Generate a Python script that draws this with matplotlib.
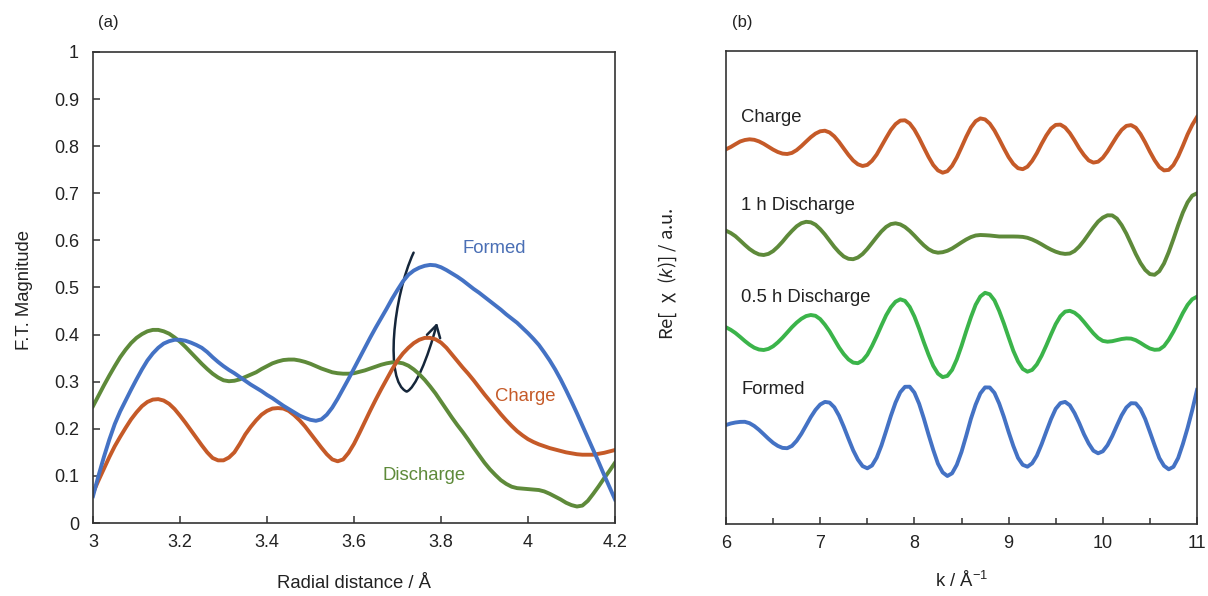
import matplotlib
matplotlib.use("Agg")
import matplotlib.pyplot as plt
from matplotlib.path import Path
from matplotlib.patches import FancyArrowPatch
from matplotlib.ticker import FuncFormatter, MultipleLocator
import numpy as np

plt.rcParams['font.family'] = ['Liberation Sans', 'DejaVu Sans']
plt.rcParams['mathtext.fontset'] = 'custom'
plt.rcParams['mathtext.rm'] = 'Liberation Sans'
plt.rcParams['mathtext.it'] = 'Liberation Sans:italic'

# ---- (a) Fourier transform magnitude vs radial distance ----
r = [3.0000, 3.0125, 3.0250, 3.0375, 3.0500, 3.0625, 3.0750, 3.0875,
     3.1000, 3.1125, 3.1250, 3.1375, 3.1500, 3.1625, 3.1750, 3.1875,
     3.2000, 3.2125, 3.2250, 3.2375, 3.2500, 3.2625, 3.2750, 3.2875,
     3.3000, 3.3125, 3.3250, 3.3375, 3.3500, 3.3625, 3.3750, 3.3875,
     3.4000, 3.4125, 3.4250, 3.4375, 3.4500, 3.4625, 3.4750, 3.4875,
     3.5000, 3.5125, 3.5250, 3.5375, 3.5500, 3.5625, 3.5750, 3.5875,
     3.6000, 3.6125, 3.6250, 3.6375, 3.6500, 3.6625, 3.6750, 3.6875,
     3.7000, 3.7125, 3.7250, 3.7375, 3.7500, 3.7625, 3.7750, 3.7875,
     3.8000, 3.8125, 3.8250, 3.8375, 3.8500, 3.8625, 3.8750, 3.8875,
     3.9000, 3.9125, 3.9250, 3.9375, 3.9500, 3.9625, 3.9750, 3.9875,
     4.0000, 4.0125, 4.0250, 4.0375, 4.0500, 4.0625, 4.0750, 4.0875,
     4.1000, 4.1125, 4.1250, 4.1375, 4.1500, 4.1625, 4.1750, 4.1875,
     4.2000]

ft_formed = [0.057, 0.100, 0.140, 0.177, 0.210, 0.237, 0.260, 0.283,
             0.305, 0.326, 0.345, 0.360, 0.372, 0.381, 0.386, 0.389,
             0.389, 0.387, 0.383, 0.378, 0.372, 0.363, 0.352, 0.342,
             0.333, 0.325, 0.318, 0.310, 0.302, 0.294, 0.287, 0.280,
             0.272, 0.265, 0.257, 0.249, 0.242, 0.235, 0.228, 0.223,
             0.219, 0.217, 0.220, 0.230, 0.245, 0.264, 0.285, 0.306,
             0.328, 0.350, 0.372, 0.394, 0.415, 0.435, 0.455, 0.476,
             0.495, 0.513, 0.527, 0.536, 0.542, 0.546, 0.548, 0.547,
             0.543, 0.537, 0.530, 0.523, 0.515, 0.506, 0.497, 0.489,
             0.480, 0.471, 0.462, 0.453, 0.443, 0.434, 0.425, 0.414,
             0.403, 0.391, 0.378, 0.362, 0.345, 0.326, 0.305, 0.282,
             0.258, 0.233, 0.207, 0.181, 0.155, 0.129, 0.102, 0.076,
             0.050]

ft_charge = [0.064, 0.090, 0.115, 0.140, 0.163, 0.183, 0.202, 0.220,
             0.235, 0.248, 0.257, 0.262, 0.263, 0.260, 0.253, 0.242,
             0.228, 0.213, 0.197, 0.181, 0.165, 0.150, 0.138, 0.133,
             0.133, 0.139, 0.150, 0.168, 0.188, 0.204, 0.218, 0.230,
             0.238, 0.243, 0.244, 0.243, 0.238, 0.229, 0.218, 0.205,
             0.190, 0.175, 0.160, 0.146, 0.135, 0.131, 0.135, 0.149,
             0.168, 0.191, 0.215, 0.239, 0.262, 0.284, 0.305, 0.326,
             0.345, 0.360, 0.372, 0.382, 0.389, 0.393, 0.393, 0.390,
             0.383, 0.372, 0.358, 0.344, 0.330, 0.317, 0.303, 0.288,
             0.273, 0.259, 0.245, 0.231, 0.218, 0.206, 0.195, 0.186,
             0.178, 0.172, 0.167, 0.163, 0.159, 0.156, 0.153, 0.150,
             0.148, 0.146, 0.145, 0.145, 0.145, 0.147, 0.149, 0.152,
             0.155]

ft_discharge = [0.248, 0.270, 0.292, 0.313, 0.333, 0.352, 0.368, 0.382,
                0.393, 0.401, 0.407, 0.410, 0.410, 0.407, 0.402, 0.394,
                0.385, 0.374, 0.362, 0.350, 0.338, 0.327, 0.317, 0.309,
                0.303, 0.301, 0.302, 0.305, 0.310, 0.315, 0.320, 0.327,
                0.333, 0.339, 0.343, 0.346, 0.347, 0.347, 0.345, 0.342,
                0.338, 0.333, 0.328, 0.324, 0.320, 0.318, 0.317, 0.317,
                0.318, 0.321, 0.324, 0.328, 0.332, 0.336, 0.339, 0.341,
                0.341, 0.339, 0.334, 0.326, 0.316, 0.304, 0.290, 0.275,
                0.258, 0.241, 0.224, 0.208, 0.193, 0.177, 0.160, 0.144,
                0.128, 0.114, 0.102, 0.091, 0.083, 0.077, 0.074, 0.073,
                0.072, 0.071, 0.070, 0.067, 0.062, 0.056, 0.050, 0.043,
                0.038, 0.035, 0.037, 0.047, 0.062, 0.078, 0.095, 0.111,
                0.128]

# ---- (b) Re[chi(k)] vs k, stacked ----
k = [6.00, 6.05, 6.10, 6.15, 6.20, 6.25, 6.30, 6.35, 6.40, 6.45,
     6.50, 6.55, 6.60, 6.65, 6.70, 6.75, 6.80, 6.85, 6.90, 6.95,
     7.00, 7.05, 7.10, 7.15, 7.20, 7.25, 7.30, 7.35, 7.40, 7.45,
     7.50, 7.55, 7.60, 7.65, 7.70, 7.75, 7.80, 7.85, 7.90, 7.95,
     8.00, 8.05, 8.10, 8.15, 8.20, 8.25, 8.30, 8.35, 8.40, 8.45,
     8.50, 8.55, 8.60, 8.65, 8.70, 8.75, 8.80, 8.85, 8.90, 8.95,
     9.00, 9.05, 9.10, 9.15, 9.20, 9.25, 9.30, 9.35, 9.40, 9.45,
     9.50, 9.55, 9.60, 9.65, 9.70, 9.75, 9.80, 9.85, 9.90, 9.95,
     10.00, 10.05, 10.10, 10.15, 10.20, 10.25, 10.30, 10.35, 10.40, 10.45,
     10.50, 10.55, 10.60, 10.65, 10.70, 10.75, 10.80, 10.85, 10.90, 10.95,
     11.00]

chi_charge = [-0.053, -0.030, -0.002, 0.025, 0.040, 0.047, 0.042, 0.026, 0.002, -0.027,
              -0.056, -0.080, -0.096, -0.100, -0.089, -0.061, -0.021, 0.024, 0.068, 0.104,
              0.127, 0.133, 0.115, 0.076, 0.020, -0.045, -0.109, -0.165, -0.203, -0.220,
              -0.209, -0.168, -0.105, -0.022, 0.061, 0.140, 0.199, 0.234, 0.237, 0.206,
              0.143, 0.059, -0.036, -0.129, -0.210, -0.264, -0.287, -0.272, -0.218, -0.135,
              -0.033, 0.072, 0.165, 0.228, 0.256, 0.246, 0.204, 0.135, 0.048, -0.044,
              -0.131, -0.199, -0.242, -0.252, -0.227, -0.169, -0.091, 0.001, 0.085, 0.154,
              0.191, 0.194, 0.165, 0.109, 0.036, -0.043, -0.110, -0.164, -0.186, -0.177,
              -0.138, -0.074, 0.002, 0.077, 0.141, 0.181, 0.189, 0.163, 0.100, 0.016,
              -0.077, -0.162, -0.230, -0.264, -0.259, -0.210, -0.125, -0.018, 0.096, 0.192,
              0.270]

chi_1h = [0.033, 0.010, -0.022, -0.065, -0.109, -0.150, -0.182, -0.204, -0.210, -0.199,
          -0.171, -0.128, -0.077, -0.020, 0.031, 0.077, 0.108, 0.122, 0.117, 0.093,
          0.049, -0.005, -0.067, -0.129, -0.182, -0.225, -0.248, -0.252, -0.235, -0.200,
          -0.149, -0.090, -0.030, 0.026, 0.071, 0.099, 0.107, 0.096, 0.070, 0.031,
          -0.016, -0.066, -0.113, -0.152, -0.177, -0.187, -0.182, -0.168, -0.145, -0.115,
          -0.084, -0.055, -0.031, -0.015, -0.010, -0.012, -0.015, -0.020, -0.025, -0.025,
          -0.025, -0.025, -0.026, -0.029, -0.038, -0.055, -0.077, -0.103, -0.131, -0.156,
          -0.177, -0.192, -0.199, -0.195, -0.170, -0.125, -0.067, -0.001, 0.065, 0.124,
          0.164, 0.187, 0.186, 0.154, 0.089, 0.004, -0.097, -0.200, -0.290, -0.359,
          -0.401, -0.408, -0.372, -0.294, -0.181, -0.050, 0.088, 0.215, 0.317, 0.384,
          0.407]

chi_05h = [0.067, 0.042, 0.010, -0.029, -0.070, -0.107, -0.137, -0.155, -0.160, -0.149,
           -0.123, -0.084, -0.037, 0.015, 0.068, 0.114, 0.152, 0.179, 0.190, 0.182,
           0.149, 0.093, 0.026, -0.054, -0.134, -0.201, -0.254, -0.286, -0.292, -0.265,
           -0.207, -0.120, -0.021, 0.085, 0.187, 0.267, 0.323, 0.347, 0.331, 0.271,
           0.175, 0.053, -0.082, -0.207, -0.319, -0.396, -0.431, -0.419, -0.359, -0.254,
           -0.120, 0.028, 0.168, 0.292, 0.375, 0.412, 0.397, 0.336, 0.231, 0.105,
           -0.033, -0.168, -0.274, -0.349, -0.377, -0.359, -0.304, -0.218, -0.115, -0.005,
           0.099, 0.178, 0.224, 0.232, 0.213, 0.175, 0.121, 0.063, 0.007, -0.040,
           -0.069, -0.077, -0.072, -0.061, -0.050, -0.044, -0.046, -0.062, -0.089, -0.119,
           -0.145, -0.158, -0.155, -0.121, -0.057, 0.024, 0.115, 0.210, 0.291, 0.348,
           0.373]

chi_formed = [0.090, 0.105, 0.115, 0.121, 0.122, 0.108, 0.080, 0.042, -0.002, -0.047,
              -0.088, -0.119, -0.139, -0.142, -0.119, -0.068, 0.002, 0.085, 0.169, 0.241,
              0.295, 0.321, 0.314, 0.267, 0.183, 0.073, -0.047, -0.163, -0.256, -0.321,
              -0.343, -0.315, -0.236, -0.115, 0.031, 0.181, 0.315, 0.418, 0.472, 0.473,
              0.414, 0.303, 0.156, -0.006, -0.159, -0.297, -0.384, -0.420, -0.393, -0.308,
              -0.179, -0.018, 0.152, 0.294, 0.406, 0.466, 0.465, 0.411, 0.305, 0.171,
              0.021, -0.119, -0.239, -0.308, -0.327, -0.293, -0.216, -0.103, 0.024, 0.148,
              0.252, 0.309, 0.321, 0.287, 0.209, 0.109, -0.002, -0.095, -0.167, -0.193,
              -0.173, -0.112, -0.021, 0.085, 0.187, 0.265, 0.308, 0.306, 0.250, 0.150,
              0.020, -0.113, -0.240, -0.318, -0.353, -0.328, -0.240, -0.100, 0.060, 0.240,
              0.440]

labels_b = ['Charge', '1 h Discharge', '0.5 h Discharge', 'Formed']
offsets_b = [3.8, 2.9, 1.9, 0.9]

BLUE = '#4472c4'
ORANGE = '#c55a28'
DKGREEN = '#5e8a3a'
GREEN = '#3bb44a'
SPINE = '#333333'
TXT = '#222222'
FS = 13.3

fig = plt.figure(figsize=(12.08, 5.96), dpi=100)
axa = fig.add_axes([93 / 1208, 1 - 523 / 596, 522 / 1208, 471 / 596])
axb = fig.add_axes([726 / 1208, 1 - 524 / 596, 471 / 1208, 473 / 596])

lw = 2.8
axa.plot(r, ft_discharge, color=DKGREEN, lw=lw, solid_joinstyle='round')
axa.plot(r, ft_charge, color=ORANGE, lw=lw, solid_joinstyle='round')
axa.plot(r, ft_formed, color=BLUE, lw=lw, solid_joinstyle='round')

axa.set_xlim(3, 4.2)
axa.set_ylim(0, 1)
axa.xaxis.set_major_locator(MultipleLocator(0.2))
axa.yaxis.set_major_locator(MultipleLocator(0.1))
fmt = FuncFormatter(lambda v, p: '%g' % round(v, 2))
axa.xaxis.set_major_formatter(fmt)
axa.yaxis.set_major_formatter(fmt)

axa.text(3.922, 0.582, 'Formed', color='#4a6fb5', fontsize=FS, ha='center', va='center')
axa.text(3.993, 0.268, 'Charge', color=ORANGE, fontsize=FS, ha='center', va='center')
axa.text(3.761, 0.100, 'Discharge', color=DKGREEN, fontsize=FS, ha='center', va='center')

# curved arrow (annotation)
verts = [(3.737, 0.574), (3.69, 0.48), (3.67, 0.30), (3.721, 0.279),
         (3.74, 0.285), (3.77, 0.35), (3.791, 0.425)]
codes = [Path.MOVETO, Path.CURVE4, Path.CURVE4, Path.CURVE4,
         Path.CURVE4, Path.CURVE4, Path.CURVE4]
arrow = FancyArrowPatch(path=Path(verts, codes), arrowstyle='->,head_length=0.6,head_width=0.35',
                        mutation_scale=14, color='#15263a', lw=1.8)
axa.add_patch(arrow)

axa.set_xlabel('Radial distance / Å', fontsize=FS, color=TXT)
axa.set_ylabel('F.T. Magnitude', fontsize=FS, color=TXT)
axa.xaxis.set_label_coords(0.5, -0.11)
axa.yaxis.set_label_coords(-0.114, 0.495)

# panel (b)
for vals, off, col in zip([chi_charge, chi_1h, chi_05h, chi_formed], offsets_b,
                          [ORANGE, DKGREEN, GREEN, BLUE]):
    axb.plot(k, np.array(vals) + off, color=col, lw=lw, solid_joinstyle='round')

axb.set_xlim(6, 11)
axb.set_ylim(0, 4.73)
axb.xaxis.set_major_locator(MultipleLocator(1))
axb.xaxis.set_minor_locator(MultipleLocator(0.5))
axb.set_yticks([])
for lab, ty in zip(labels_b, [4.07, 3.19, 2.27, 1.34]):
    axb.text(6.16, ty, lab, color=TXT, fontsize=FS, ha='left', va='center')

axb.set_xlabel('k / Å$^{\u22121}$', fontsize=FS, color=TXT)
axb.set_ylabel('Re[\u2002χ\u2002($\\mathit{k}$)] / a.u.', fontsize=FS, color=TXT,
               family=['Noto Sans CJK JP', 'DejaVu Sans'])
axb.xaxis.set_label_coords(0.501, -0.1)
axb.yaxis.set_label_coords(-0.1, 0.53)

for ax in (axa, axb):
    for s in ax.spines.values():
        s.set_color(SPINE)
        s.set_linewidth(1.2)
    ax.tick_params(which='major', direction='in', length=5, width=1.1, color=SPINE,
                   labelsize=13, labelcolor=TXT, pad=8)
    ax.tick_params(which='minor', direction='in', length=4, width=1.1, color=SPINE)
    ax.tick_params(axis='y', pad=10)

fig.text(108 / 1208, 1 - 22 / 596, '(a)', fontsize=12, ha='center', va='center', color=TXT)
fig.text(742 / 1208, 1 - 22 / 596, '(b)', fontsize=12, ha='center', va='center', color=TXT)

fig.savefig('out.png', dpi=100)
